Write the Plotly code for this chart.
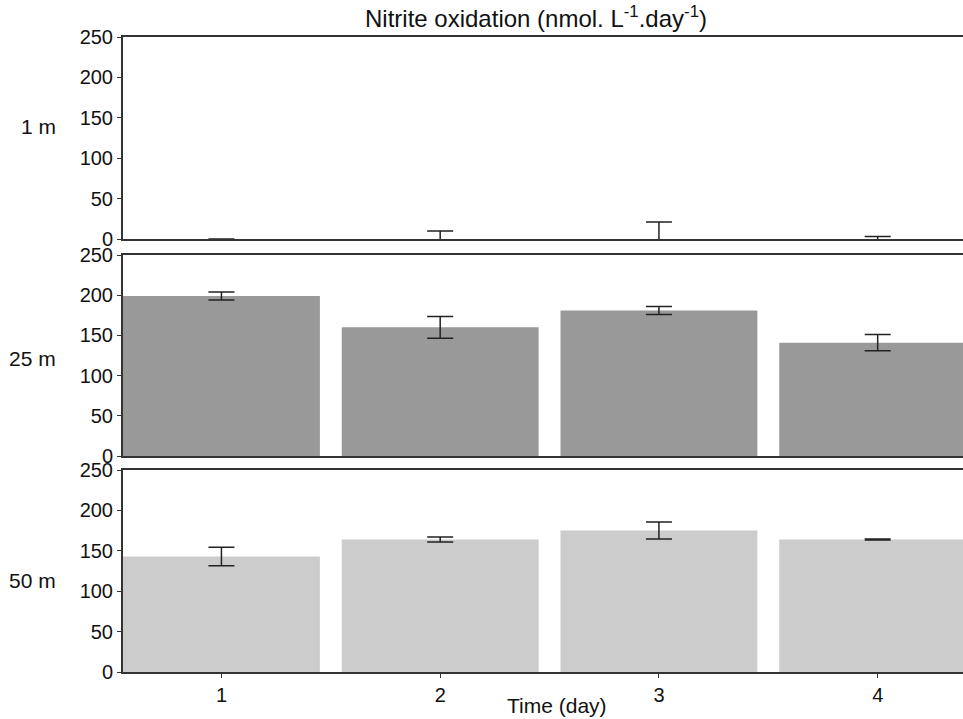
import plotly.graph_objects as go

days = [1, 2, 3, 4]
tick_labels = ["1", "2", "3", "4"]
depths = ["1 m", "25 m", "50 m"]
rate_1m = [0, 0, 0, 0]
err_1m = [0, 10, 21, 3]
rate_25m = [199, 160, 181, 141]
err_25m = [5, 13.5, 5, 10]
rate_50m = [143, 164, 175, 164]
err_50m = [11.5, 3, 10.5, 0.5]
bar_colors = ["#999999", "#999999", "#cccccc"]

series = [(rate_1m, err_1m), (rate_25m, err_25m), (rate_50m, err_50m)]

W, H = 963, 719
ML, MR, MT, MB = 123, 0, 37, 47
PW, PH = W - ML - MR, H - MT - MB

def py(p):
    return (H - MB - p) / PH

def px(p):
    return (p - ML) / PW

fig = go.Figure()
domains = [[py(239), py(37)], [py(456), py(255)], [py(672), py(470)]]
label_y = [127, 358, 580]
FONT = "Liberation Sans, Arial, sans-serif"
axis_col = "#333333"
txt_col = "#111111"

for i, ((vals, errs), col) in enumerate(zip(series, bar_colors)):
    n = i + 1
    xa = "x" if n == 1 else f"x{n}"
    ya = "y" if n == 1 else f"y{n}"
    fig.add_trace(go.Bar(
        x=days, y=vals, xaxis=xa, yaxis=ya, width=0.9,
        marker=dict(color=col, line=dict(width=0)),
        error_y=dict(type="data", array=errs, visible=True, color="#222222",
                     thickness=1.5, width=13),
        showlegend=False,
    ))
    xk = "xaxis" if n == 1 else f"xaxis{n}"
    yk = "yaxis" if n == 1 else f"yaxis{n}"
    fig.layout[xk] = dict(
        domain=[0, 1], anchor=ya, range=[0.55, 4.39],
        tickvals=days, ticktext=tick_labels,
        showticklabels=(n == 3), ticks="outside" if n == 3 else "",
        ticklen=4, tickcolor=axis_col,
        showline=True, linecolor=axis_col, linewidth=2, mirror=True,
        showgrid=False, zeroline=False,
        tickfont=dict(size=20, color=txt_col, family=FONT),
    )
    fig.layout[yk] = dict(
        domain=domains[i], anchor=xa, range=[0, 250],
        tickvals=[0, 50, 100, 150, 200, 250],
        ticks="outside", ticklen=4, tickcolor=axis_col,
        showline=True, linecolor=axis_col, linewidth=2,
        showgrid=False, zeroline=False,
        tickfont=dict(size=20, color=txt_col, family=FONT),
    )
    fig.add_annotation(
        text=depths[i], xref="paper", yref="paper",
        x=px(58), y=py(label_y[i]),
        xanchor="right", yanchor="middle", showarrow=False,
        font=dict(size=21, color=txt_col, family=FONT),
    )

fig.add_annotation(
    text="Time (day)", xref="paper", yref="paper",
    x=px(557), y=py(705), xanchor="center", yanchor="middle", showarrow=False,
    font=dict(size=21, color=txt_col, family=FONT),
)

fig.update_layout(
    width=W, height=H,
    margin=dict(l=ML, r=MR, t=MT, b=MB, autoexpand=False),
    plot_bgcolor="white", paper_bgcolor="white",
    title=dict(text="Nitrite oxidation (nmol. L<sup>-1</sup>.day<sup>-1</sup>)",
               x=(536) / W, xanchor="center", y=1 - 19 / H, yanchor="middle",
               font=dict(size=24, color=txt_col, family=FONT)),
    bargap=0.1,
)

fig.write_html("out.html", config={"displayModeBar": False},
               post_script="document.body.style.margin='0px';document.body.style.overflow='hidden';")
